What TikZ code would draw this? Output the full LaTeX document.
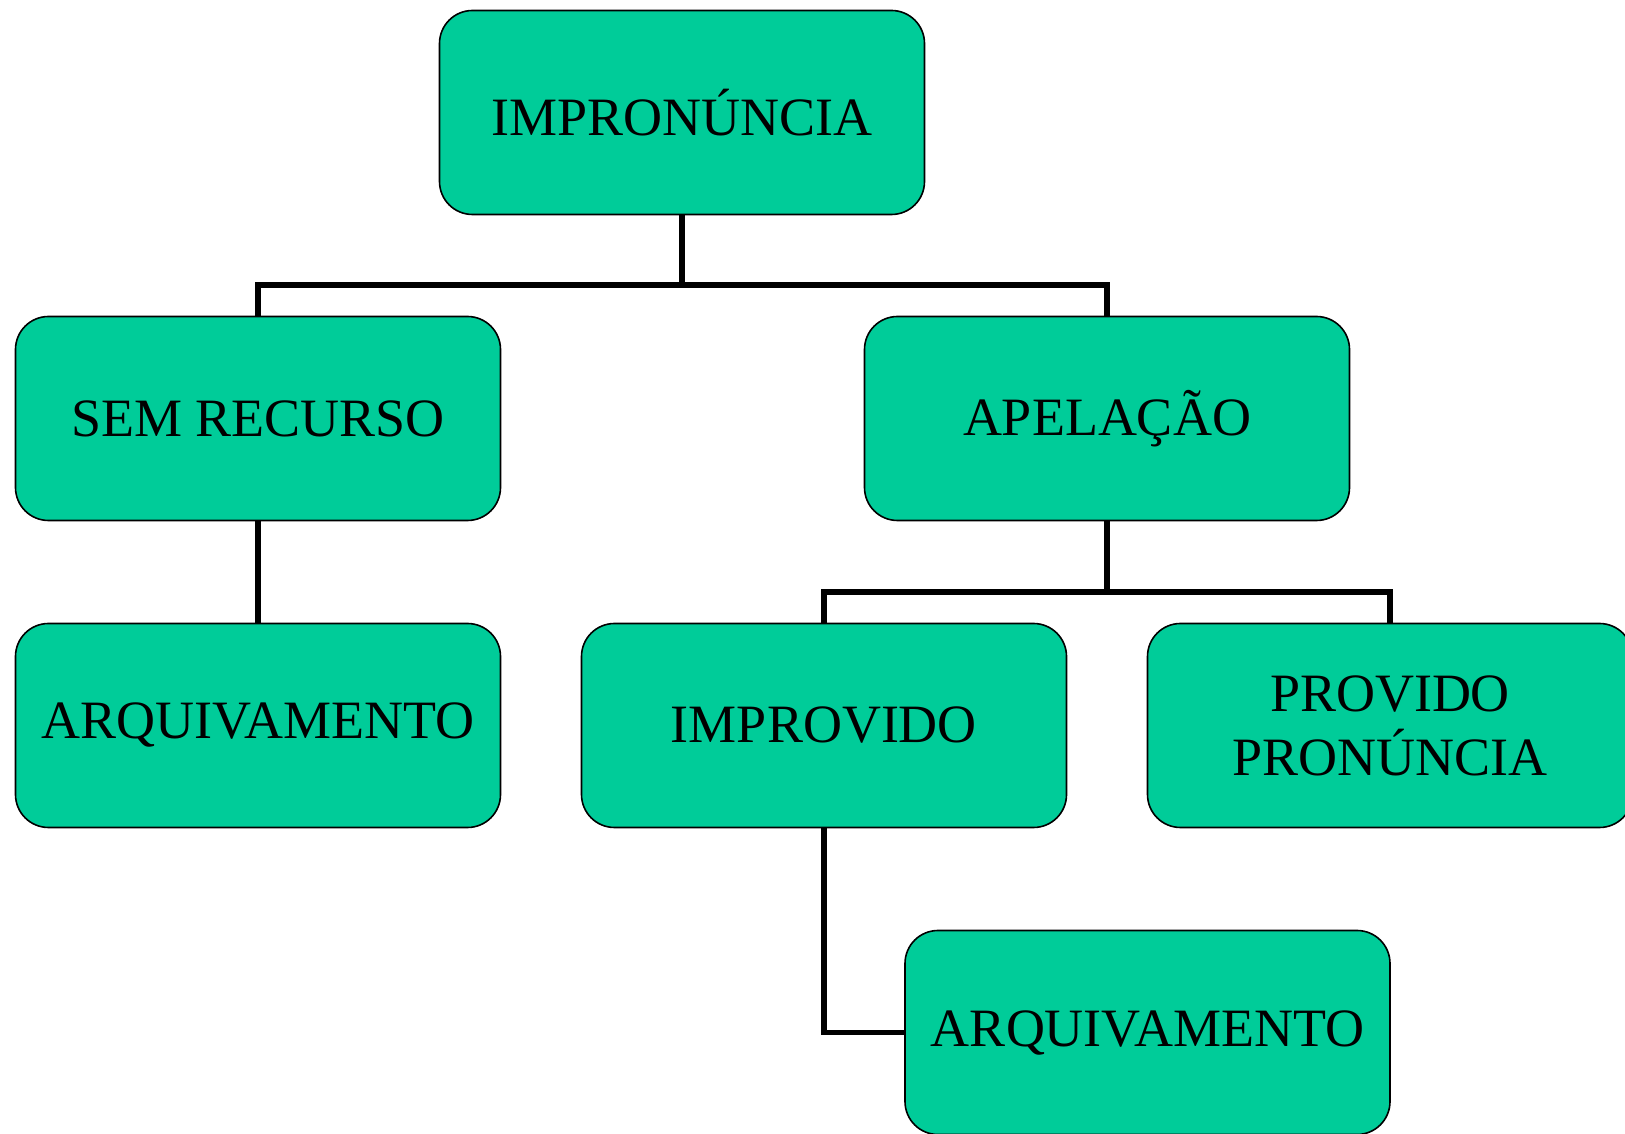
\documentclass[tikz,border=0pt]{standalone}
\usepackage{fontspec}
\setmainfont{Liberation Serif}
\usepackage{tikz}

\definecolor{boxgreen}{RGB}{0,204,153}

\begin{document}
\begin{tikzpicture}[x=1pt,y=1pt,
    box/.style={draw=black, line width=1.6pt, fill=boxgreen, rounded corners=33pt,
        minimum width=485pt, minimum height=204pt, inner sep=0pt, align=center,
        font=\fontsize{54}{64}\selectfont},
    conn/.style={draw=black, line width=5.5pt}]
    \useasboundingbox (0,0) rectangle (1625,1133);

    % Define coordinates
    \coordinate (j1) at (682,848);
    \coordinate (j2) at (1107,541);

    % Boxes
    \node[box] (impron) at (682,1020.5) {IMPRONÚNCIA};
    \node[box] (semrec) at (258,714.5) {SEM RECURSO};
    \node[box] (apel) at (1107,714.5) {APELAÇÃO};
    \node[box] (arqa) at (258,407.5) {ARQUIVAMENTO};
    \node[box] (improv) at (824,407.5) {IMPROVIDO};
    \node[box] (provido) at (1390,407.5) {PROVIDO\\PRONÚNCIA};
    \node[box] (arqb) at (1147.5,100.5) {ARQUIVAMENTO};

    % Connectors
    \draw[conn] (impron.south) -- (j1) -| (semrec.north);
    \draw[conn] (j1) -| (apel.north);
    \draw[conn] (semrec.south) -- (arqa.north);
    \draw[conn] (apel.south) -- (j2) -| (improv.north);
    \draw[conn] (j2) -| (provido.north);
    \draw[conn] (improv.south) |- (arqb.west);
\end{tikzpicture}
\end{document}
